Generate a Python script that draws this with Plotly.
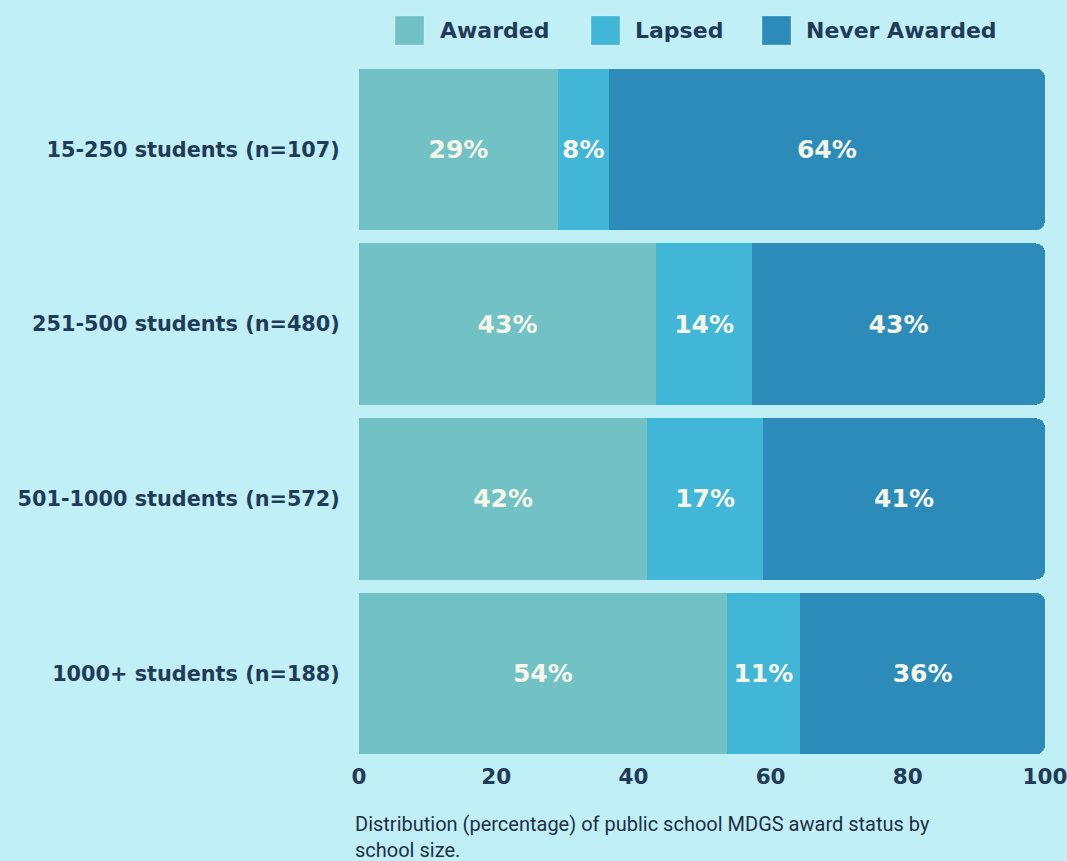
import plotly.graph_objects as go

categories = ["15-250 students (n=107)", "251-500 students (n=480)",
              "501-1000 students (n=572)", "1000+ students (n=188)"]
series_names = ["Awarded", "Lapsed", "Never Awarded"]
awarded = [29.0, 43.3, 42.0, 53.6]
lapsed = [7.4, 14.0, 16.9, 10.7]
never_awarded = [63.6, 42.7, 41.1, 35.7]
awarded_labels = ["29%", "43%", "42%", "54%"]
lapsed_labels = ["8%", "14%", "17%", "11%"]
never_labels = ["64%", "43%", "41%", "36%"]
x_ticks = [0, 20, 40, 60, 80, 100]
caption = "Distribution (percentage) of public school MDGS award status by<br>school size."

BG = "#c0eff6"
DARK = "#1f3b57"
TXT = "#f4f6ea"
FONT = "DejaVu Sans"
COLORS = ["#72c1c5", "#42b6d6", "#2d8bba"]

W, H = 1067, 861
ML, MR, MT, MB = 359, 22, 62, 100
PW = W - ML - MR
PH = H - MT - MB

fig = go.Figure()
for name, vals, labels, color in zip(series_names,
                                     [awarded, lapsed, never_awarded],
                                     [awarded_labels, lapsed_labels, never_labels],
                                     COLORS):
    fig.add_trace(go.Bar(
        y=categories, x=vals, name=name, orientation="h",
        marker=dict(color=color, line=dict(width=0)),
        text=labels, textposition="inside", insidetextanchor="middle",
        textangle=0,
        textfont=dict(family=FONT, size=25, color=TXT, weight="bold"),
        hoverinfo="skip", showlegend=False,
    ))

# manual legend (large square swatches)
legend_sq_x = [395, 591, 762]
legend_txt_x = [438, 633, 804]
shapes = []
annotations = []
for i, name in enumerate(series_names):
    shapes.append(dict(
        type="rect", xref="paper", yref="paper",
        x0=(legend_sq_x[i] - ML) / PW, x1=(legend_sq_x[i] + 29 - ML) / PW,
        y0=1 + (MT - 45) / PH, y1=1 + (MT - 16) / PH,
        fillcolor=COLORS[i], line=dict(width=1, color="rgba(255,255,255,0.25)"),
    ))
    annotations.append(dict(
        text=name, xref="paper", yref="paper",
        x=(legend_txt_x[i] - ML) / PW, y=1 + (MT - 30) / PH,
        xanchor="left", yanchor="middle", showarrow=False,
        font=dict(family=FONT, size=22, color=DARK, weight="bold"),
    ))

annotations.append(dict(
    text=caption, xref="paper", yref="paper",
    x=(353 - ML) / PW, y=-(810 - (H - MB)) / PH,
    xanchor="left", yanchor="top", align="left", showarrow=False,
    font=dict(family="Roboto", size=20, color="#1d2f45"),
))

fig.update_layout(
    barmode="stack",
    bargap=0.077,
    barcornerradius=9,
    width=W, height=H,
    paper_bgcolor=BG, plot_bgcolor=BG,
    margin=dict(l=ML, r=MR, t=MT, b=MB, autoexpand=False),
    font=dict(family=FONT, color=DARK),
    showlegend=False,
    xaxis=dict(range=[0, 100], tickvals=x_ticks, showgrid=False, zeroline=False,
               showline=False, ticks="", automargin=False, ticklabeloverflow="allow",
               tickfont=dict(family=FONT, size=21.5, color=DARK, weight="bold"),
               fixedrange=True),
    yaxis=dict(autorange="reversed", showgrid=False, zeroline=False, showline=False,
               ticks="outside", ticklen=14, tickcolor="rgba(0,0,0,0)", automargin=False,
               tickfont=dict(family=FONT, size=20.8, color=DARK, weight="bold")),
    shapes=shapes,
    annotations=annotations,
)

fig.write_html("out.html")
